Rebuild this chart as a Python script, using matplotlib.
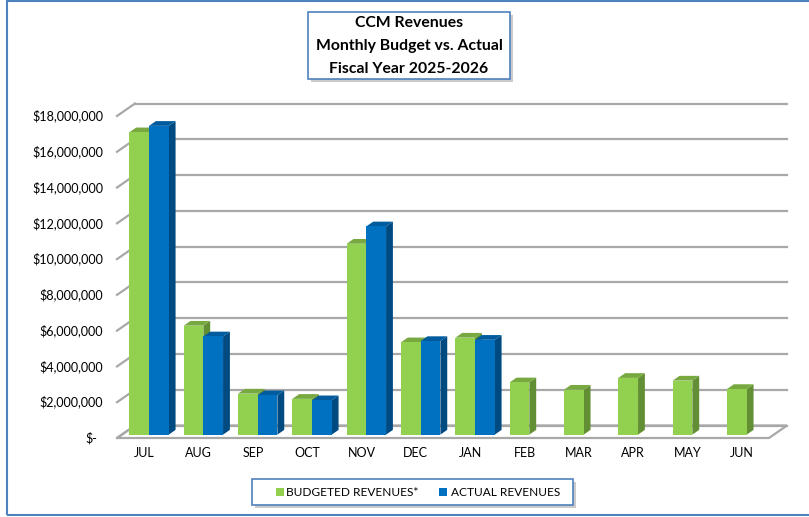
import numpy as np
import matplotlib
matplotlib.use('Agg')
import matplotlib.pyplot as plt
from matplotlib.patches import Polygon, Rectangle

# datos
meses = ['JUL', 'AUG', 'SEP', 'OCT', 'NOV', 'DEC', 'JAN', 'FEB', 'MAR', 'APR', 'MAY', 'JUN']
presupuesto = [16.9e6, 6.09e6, 2.29e6, 2.0e6, 10.67e6, 5.16e6, 5.42e6, 2.92e6, 2.51e6, 3.17e6, 3.02e6, 2.55e6]
real = [17.26e6, 5.49e6, 2.2e6, 1.92e6, 11.64e6, 5.23e6, 5.3e6]
marcas_y = np.arange(0, 18e6 + 1, 2e6)
titulo = ['CCM Revenues', 'Monthly Budget vs. Actual', 'Fiscal Year 2025-2026']
series = ['BUDGETED REVENUES*', 'ACTUAL REVENUES']

plt.rcParams['font.family'] = ['Lato', 'DejaVu Sans']

W_PX, H_PX = 809, 517
fig = plt.figure(figsize=(W_PX / 100, H_PX / 100), dpi=100)

# eje en pixeles: x de 117 a 769, y=0 en 438, 18M en 116
px_x = (769 - 117) / 12.0
px_y = (438 - 116) / 18e6
y_top = 19.5e6
ax = fig.add_axes([117 / W_PX, (H_PX - 438) / H_PX, (769 - 117) / W_PX, y_top * px_y / H_PX])
ax.set_xlim(-0.5, 11.5)
ax.set_ylim(0, y_top)
ax.axis('off')

# profundidad del gráfico 3d
DX = 18 / px_x
DY = 12.5 / px_y
F = 0.27          # posición de las barras dentro de la profundidad
BW = 19.7 / px_x  # ancho de barra
BD = 0.38         # profundidad de barra

gris = '#A8A8A8'
# piso
piso = Polygon([(-0.5, 0), (11.5, 0), (11.5 + DX, DY), (-0.5 + DX, DY)], closed=True,
               fc='white', ec=gris, lw=1.6, zorder=1, clip_on=False)
ax.add_patch(piso)
# líneas de la cuadrícula (pared trasera y lateral)
for v in marcas_y:
    ax.plot([-0.5 + DX, 11.5 + DX], [v + DY, v + DY], color=gris, lw=1.6, zorder=1, clip_on=False)
    ax.plot([-0.5, -0.5 + DX], [v, v + DY], color=gris, lw=1.6, zorder=1, clip_on=False)
    etiqueta = '${:,.0f}'.format(v) if v > 0 else '$-'
    dx_txt = -10 if v > 0 else -14.5
    ax.annotate(etiqueta, (-0.5, v), xytext=(dx_txt, 0), textcoords='offset points',
                ha='right', va='center', fontsize=9.1, color='#000000', annotation_clip=False)


def barra(x0, h, cf, cl, ct):
    x0 = x0 + F * DX
    b = F * DY
    x1 = x0 + BW
    ddx, ddy = BD * DX, BD * DY
    ax.add_patch(Polygon([(x1, b), (x1, b + h), (x1 + ddx, b + h + ddy), (x1 + ddx, b + ddy)],
                         closed=True, fc=cl, ec='none', zorder=3, clip_on=False))
    ax.add_patch(Polygon([(x0, b + h), (x1, b + h), (x1 + ddx, b + h + ddy), (x0 + ddx, b + h + ddy)],
                         closed=True, fc=ct, ec='none', zorder=3, clip_on=False))
    ax.add_patch(Polygon([(x0, b), (x1, b), (x1, b + h), (x0, b + h)],
                         closed=True, fc=cf, ec='none', zorder=3, clip_on=False))


verde = ('#92D050', '#628F33', '#78A940')
azul = ('#0070C0', '#004A82', '#005C9E')
for i, m in enumerate(meses):
    barra(i - BW, presupuesto[i], *verde)
    if i < len(real):
        barra(i, real[i], *azul)
    ax.annotate(m, (i, 0), xytext=(0, -11), textcoords='offset points',
                ha='center', va='center', fontsize=9, annotation_clip=False)


def px(x, y):
    return x / W_PX, 1 - y / H_PX


def caja(x0, y0, x1, y1):
    fx0, fy1 = px(x0, y1)
    fx1, fy0 = px(x1, y0)
    sombra = Rectangle((fx0 + 3 / W_PX, fy1 - 3 / H_PX), fx1 - fx0, fy0 - fy1, transform=fig.transFigure,
                       fc='#BFBFBF', ec='none', alpha=0.8)
    fig.patches.append(sombra)
    r = Rectangle((fx0, fy1), fx1 - fx0, fy0 - fy1, transform=fig.transFigure,
                  fc='white', ec='#4F81BD', lw=1.2)
    fig.patches.append(r)


# borde exterior
borde = Rectangle(px(7, 515), (820 - 7) / W_PX, (515 - 1) / H_PX, transform=fig.transFigure,
                  fc='none', ec='#4F81BD', lw=1.5)
fig.patches.append(borde)

# caja del título
caja(308, 12, 510, 79)
for k, t in enumerate(titulo):
    fig.text(*px(409, 23 + 23 * k), t, ha='center', va='center', fontsize=11.3, fontweight='bold')

# leyenda
caja(252, 479, 573, 505)
for (xc, xt), c, s in zip([(275.5, 286), (439, 451)], [verde[0], azul[0]], series):
    fig.patches.append(Rectangle(px(xc, 496), 8 / W_PX, 8 / H_PX, transform=fig.transFigure,
                                 fc=c, ec='none'))
    fig.text(*px(xt, 492), s, ha='left', va='center', fontsize=8.6)

fig.savefig('out.png', dpi=100)
